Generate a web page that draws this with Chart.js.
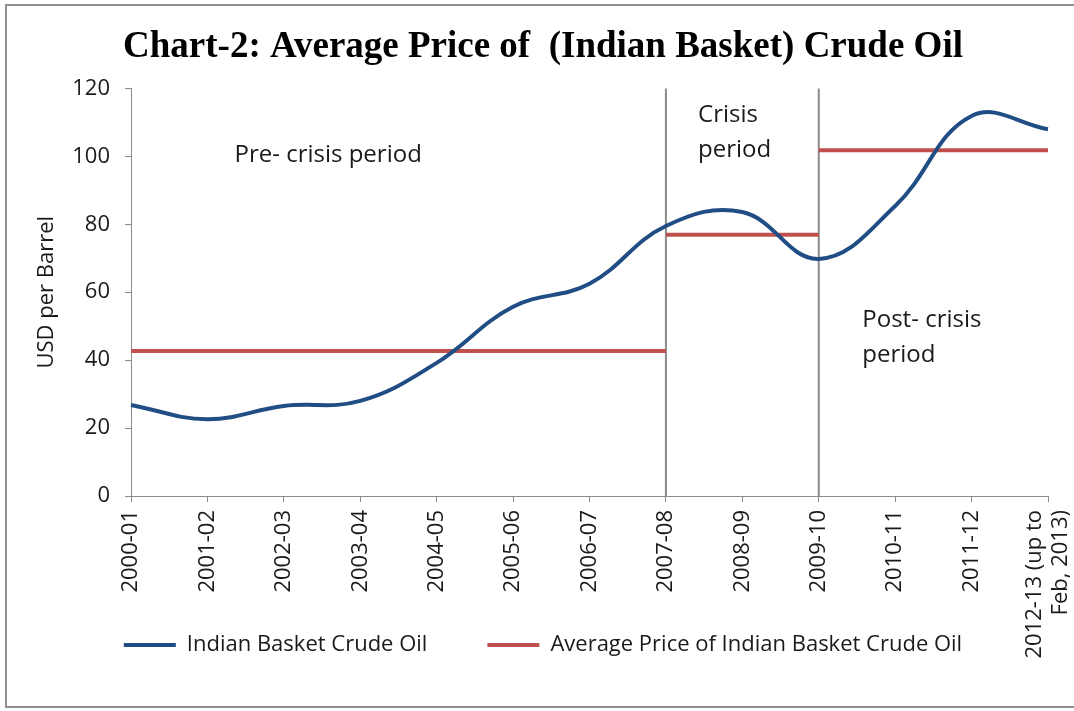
<!DOCTYPE html>
<html>
<head>
<meta charset="utf-8">
<script src="https://cdn.jsdelivr.net/npm/chart.js@4.4.1/dist/chart.umd.min.js"></script>
<style>
  html, body { margin: 0; padding: 0; background: #fff; overflow: hidden; }
  #wrap { position: relative; width: 1074px; height: 711px; }
  #frame {
    position: absolute; left: 5px; top: 4px; width: 1100px; height: 704px;
    border: 2px solid #8f8f8f; box-sizing: border-box;
  }
  canvas { position: absolute; left: 0; top: 0; }
</style>
</head>
<body>
<div id="wrap">
  <div id="frame"></div>
  <canvas id="chart" width="1074" height="711"></canvas>
</div>
<script>
// financial years on the x axis
const years = [
  "2000-01", "2001-02", "2002-03", "2003-04", "2004-05", "2005-06", "2006-07",
  "2007-08", "2008-09", "2009-10", "2010-11", "2011-12",
  ["2012-13 (up to", "Feb, 2013)"]
];

// Indian basket crude oil, USD per barrel
const crudePrice = [26.8, 22.6, 26.5, 28.0, 39.2, 55.7, 62.5, 79.5, 83.6, 69.8, 85.4, 111.9, 108.0];

// period averages (each drawn only over its own period)
const preCrisisAvg = [42.7, 42.7, 42.7, 42.7, 42.7, 42.7, 42.7, 42.7, null, null, null, null, null];
const crisisAvg = [null, null, null, null, null, null, null, 76.9, 76.9, 76.9, null, null, null];
const postCrisisAvg = [null, null, null, null, null, null, null, null, null, 101.8, 101.8, 101.8, 101.8];

// y axis ticks
const yMin = 0;
const yMax = 120;
const yStep = 20;

// indexes of the years where the crisis starts and ends
const periodBreaks = [7, 9];

// period notes, placed in data units (category index, value)
const periodNotes = [
  { lines: ["Pre- crisis period"], x: 2.58, y: 100.4, align: "center" },
  { lines: ["Crisis", "period"], x: 7.42, y: 112.2, align: "left" },
  { lines: ["Post- crisis", "period"], x: 9.57, y: 51.8, align: "left" }
];

const BLUE = "#214d85";
const RED = "#c0504d";
const AXIS = "#8a8a8a";
const TEXT = "#1a1a1a";
const SANS = "'Open Sans', sans-serif";

const periodsPlugin = {
  id: "periods",
  afterLayout(chart) {
    // centre the two-line last label on its tick, like the original
    const x = chart.scales.x;
    const items = x.getLabelItems(chart.chartArea);
    const last = items[items.length - 1];
    if (last && Array.isArray(last.label)) {
      last.options.translation[0] -= last.font.lineHeight / 2;
    }
  },
  beforeDatasetsDraw(chart) {
    const { ctx, scales: { x, y } } = chart;
    ctx.save();
    ctx.strokeStyle = AXIS;
    ctx.lineWidth = 2;
    periodBreaks.forEach((i) => {
      const px = x.getPixelForValue(i);
      ctx.beginPath();
      ctx.moveTo(px, y.getPixelForValue(yMax));
      ctx.lineTo(px, y.getPixelForValue(yMin));
      ctx.stroke();
    });
    ctx.restore();
  },
  afterDatasetsDraw(chart) {
    const { ctx, scales: { x, y } } = chart;
    ctx.save();
    ctx.fillStyle = TEXT;
    ctx.font = "24px " + SANS;
    ctx.textBaseline = "middle";
    periodNotes.forEach((note) => {
      const px = x.getPixelForValue(note.x);
      const py = y.getPixelForValue(note.y);
      ctx.textAlign = note.align;
      note.lines.forEach((line, k) => ctx.fillText(line, px, py + k * 35));
    });
    ctx.restore();
  }
};

const avgStyle = {
  borderColor: RED,
  backgroundColor: RED,
  borderWidth: 4,
  pointRadius: 0,
  tension: 0,
  spanGaps: false
};

new Chart(document.getElementById("chart"), {
  type: "line",
  data: {
    labels: years,
    datasets: [
      {
        label: "Indian Basket Crude Oil",
        data: crudePrice,
        borderColor: BLUE,
        backgroundColor: BLUE,
        borderWidth: 4,
        pointRadius: 0,
        tension: 0.4
      },
      { label: "Average Price of Indian Basket Crude Oil", data: preCrisisAvg, ...avgStyle },
      { label: "crisis average", data: crisisAvg, ...avgStyle },
      { label: "post-crisis average", data: postCrisisAvg, ...avgStyle }
    ]
  },
  options: {
    responsive: false,
    animation: false,
    layout: { padding: { left: 12, right: 0, top: 0, bottom: 45 } },
    plugins: {
      title: {
        display: true,
        text: "Chart-2: Average Price of  (Indian Basket) Crude Oil",
        color: "#000",
        font: { family: "'Liberation Serif', serif", size: 37, weight: "bold" },
        padding: { top: 25, bottom: 19 }
      },
      legend: {
        position: "bottom",
        labels: {
          filter: (item) => item.datasetIndex < 2,
          usePointStyle: true,
          pointStyle: "line",
          pointStyleWidth: 52,
          padding: 60,
          color: TEXT,
          font: { family: SANS, size: 22 }
        }
      },
      tooltip: { enabled: false }
    },
    scales: {
      x: {
        offset: false,
        afterFit: (scale) => {
          scale.height = 78;
          scale.paddingRight = 26;
          // long rotated labels run past the axis box, don't clip them
          scale._computeLabelArea = () => undefined;
        },
        grid: { drawOnChartArea: false, tickLength: 6, color: AXIS },
        border: { color: AXIS, width: 1 },
        ticks: {
          autoSkip: false,
          minRotation: 90,
          maxRotation: 90,
          padding: 8,
          color: TEXT,
          font: { family: SANS, size: 22 }
        }
      },
      y: {
        min: yMin,
        max: yMax,
        afterFit: (scale) => {
          scale.width = 119;
        },
        grid: { drawOnChartArea: false, tickLength: 6, color: AXIS },
        border: { color: AXIS, width: 1 },
        ticks: {
          stepSize: yStep,
          padding: 15,
          color: TEXT,
          font: { family: SANS, size: 22 }
        },
        title: {
          display: true,
          text: "USD per Barrel",
          color: TEXT,
          font: { family: SANS, size: 22 },
          padding: { top: 22, bottom: 0 }
        }
      }
    }
  },
  plugins: [periodsPlugin]
});
</script>
</body>
</html>
